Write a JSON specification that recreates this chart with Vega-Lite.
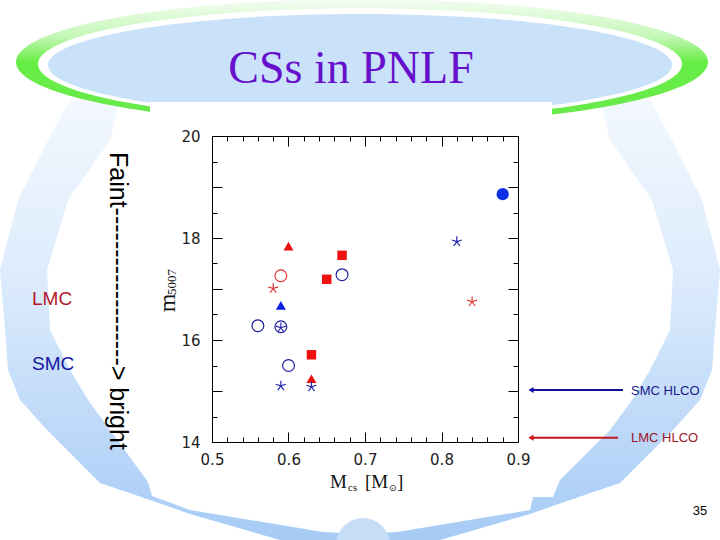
{
  "$schema": "https://vega.github.io/schema/vega-lite/v6.json",
  "width": 306,
  "height": 306,
  "autosize": {"type": "none"},
  "padding": {"left": 212, "top": 136, "right": 202, "bottom": 98},
  "background": "white",
  "config": {"view": {"stroke": "#000000", "strokeWidth": 1, "fill": null}},
  "datasets": {
    "pts": [
      {"g": "LMC", "k": "star", "mass": 0.58, "m5007": 17.01},
      {"g": "LMC", "k": "star", "mass": 0.84, "m5007": 16.75},
      {"g": "LMC", "k": "open", "mass": 0.59, "m5007": 17.26},
      {"g": "LMC", "k": "tri", "mass": 0.60, "m5007": 17.84},
      {"g": "LMC", "k": "tri", "mass": 0.63, "m5007": 15.24},
      {"g": "LMC", "k": "square", "mass": 0.67, "m5007": 17.66},
      {"g": "LMC", "k": "square", "mass": 0.65, "m5007": 17.19},
      {"g": "LMC", "k": "square", "mass": 0.63, "m5007": 15.71},
      {"g": "SMC", "k": "filled", "mass": 0.88, "m5007": 18.86},
      {"g": "SMC", "k": "star", "mass": 0.82, "m5007": 17.93},
      {"g": "SMC", "k": "star", "mass": 0.59, "m5007": 16.24},
      {"g": "SMC", "k": "star", "mass": 0.59, "m5007": 15.10},
      {"g": "SMC", "k": "star", "mass": 0.63, "m5007": 15.08},
      {"g": "SMC", "k": "open", "mass": 0.67, "m5007": 17.28},
      {"g": "SMC", "k": "open", "mass": 0.56, "m5007": 16.28},
      {"g": "SMC", "k": "open", "mass": 0.59, "m5007": 16.26},
      {"g": "SMC", "k": "open", "mass": 0.60, "m5007": 15.50},
      {"g": "SMC", "k": "tri", "mass": 0.59, "m5007": 16.68}
    ]
  },
  "resolve": {"axis": {"x": "independent", "y": "independent"}, "scale": {"color": "independent"}},
  "encoding": {
    "x": {"field": "x", "type": "quantitative", "scale": {"domain": [0.5, 0.9], "nice": false, "zero": false}, "axis": null},
    "y": {"field": "y", "type": "quantitative", "scale": {"domain": [14, 20], "nice": false, "zero": false}, "axis": null}
  },
  "layer": [
    {
      "data": {"values": [{"x": 0.6935, "y": 16.392}]},
      "mark": {"type": "point", "clip": false, "filled": true, "opacity": 1, "strokeWidth": 0, "size": 640000,
        "shape": "M -0.725 -0.55 L -0.78 -0.45 L -0.855 -0.3 L -0.9 -0.125 L -0.8875 0.025 L -0.88 0.125 L -0.85 0.2 L -0.7825 0.275 L -0.65 0.4075 L -0.525 0.45 L -0.425 0.485 L -0.2 0.55 L 0 0.5875 L 0.2 0.55 L 0.425 0.485 L 0.525 0.45 L 0.65 0.4075 L 0.7825 0.275 L 0.85 0.2 L 0.88 0.125 L 0.8875 0.025 L 0.9 -0.125 L 0.855 -0.3 L 0.78 -0.45 L 0.725 -0.55 L 0.6 -0.55 L 0.625 -0.45 L 0.73 -0.3 L 0.7825 -0.125 L 0.775 0.025 L 0.725 0.125 L 0.68 0.2 L 0.625 0.275 L 0.5 0.4 L 0.4825 0.4425 L 0.4325 0.4425 L 0.425 0.475 L 0.0925 0.53 L 0 0.535 L -0.0925 0.53 L -0.425 0.475 L -0.52 0.44 L -0.53 0.405 L -0.625 0.275 L -0.68 0.2 L -0.725 0.125 L -0.775 0.025 L -0.7825 -0.125 L -0.73 -0.3 L -0.625 -0.45 L -0.6 -0.55 Z",
        "fill": {"gradient": "linear", "x1": 0, "y1": 0, "x2": 0, "y2": 1, "stops": [{"offset": 0, "color": "#f3f8fe"}, {"offset": 0.4, "color": "#dcebfc"}, {"offset": 1, "color": "#a3c9f5"}]}}
    },
    {
      "data": {"values": [{"x": 0.6974, "y": 11.98}]},
      "mark": {"type": "point", "clip": false, "filled": true, "opacity": 1, "strokeWidth": 0, "size": 2916, "shape": "circle", "fill": "#c6ddf8"}
    },
    {
      "data": {"values": [{"x": 0.69608, "y": 21.451}]},
      "mark": {"type": "point", "clip": false, "filled": true, "opacity": 1, "strokeWidth": 0, "size": 478864,
        "shape": "M -1 0 C -1 -0.1005 -0.5523 -0.182 0 -0.182 C 0.5523 -0.182 1 -0.1005 1 0 C 1 0.1005 0.5523 0.182 0 0.182 C -0.5523 0.182 -1 0.1005 -1 0 Z",
        "fill": {"gradient": "linear", "x1": 0, "y1": 0, "x2": 0, "y2": 1, "stops": [{"offset": 0, "color": "#f4fdf2"}, {"offset": 0.3, "color": "#c4f7b6"}, {"offset": 0.5, "color": "#66ee44"}, {"offset": 1, "color": "#6ae84e"}]}}
    },
    {
      "data": {"values": [{"x": 0.6935, "y": 21.412}]},
      "mark": {"type": "point", "clip": false, "filled": true, "opacity": 1, "strokeWidth": 0, "size": 414736,
        "shape": "M -1 0 C -1 -0.0958 -0.5523 -0.1734 0 -0.1734 C 0.5523 -0.1734 1 -0.0958 1 0 C 1 0.0958 0.5523 0.1734 0 0.1734 C -0.5523 0.1734 -1 0.0958 -1 0 Z",
        "fill": "#ffffff"}
    },
    {
      "data": {"values": [{"x": 0.6935, "y": 21.392}]},
      "mark": {"type": "point", "clip": false, "filled": true, "opacity": 1, "strokeWidth": 0, "size": 389376,
        "shape": "M -1 0 C -1 -0.0903 -0.5523 -0.1635 0 -0.1635 C 0.5523 -0.1635 1 -0.0903 1 0 C 1 0.0903 0.5523 0.1635 0 0.1635 C -0.5523 0.1635 -1 0.0903 -1 0 Z",
        "fill": "#cae1fa"}
    },
    {
      "data": {"values": [{"x": 0.41895, "x2": 0.94444, "y": 20.667, "y2": 20.2}]},
      "mark": {"type": "rect", "clip": false, "fill": "#ffffff", "opacity": 1},
      "encoding": {"x2": {"field": "x2"}, "y2": {"field": "y2"}}
    },
    {
      "data": {"values": [{"x": 0.6817, "y": 21.039, "t": "CSs in PNLF"}]},
      "mark": {"type": "text", "clip": false, "font": "Liberation Serif", "fontSize": 46, "color": "#6610cc", "align": "center", "baseline": "alphabetic"},
      "encoding": {"text": {"field": "t"}}
    },
    {
      "data": {"values": [{"x": 0.36667, "y": 19.686, "t": "Faint-------------------> bright"}]},
      "mark": {"type": "text", "clip": false, "font": "Liberation Sans", "fontSize": 25, "color": "#000000", "angle": 90, "align": "left", "baseline": "alphabetic"},
      "encoding": {"text": {"field": "t"}}
    },
    {
      "data": {"values": [{"x": 0.2647, "y": 16.686, "t": "LMC", "g": "LMC"}, {"x": 0.2647, "y": 15.412, "t": "SMC", "g": "SMC"}]},
      "mark": {"type": "text", "clip": false, "font": "Liberation Sans", "fontSize": 19, "align": "left", "baseline": "alphabetic"},
      "encoding": {"text": {"field": "t"}, "color": {"field": "g", "type": "nominal", "scale": {"domain": ["LMC", "SMC"], "range": ["#b3162a", "#1616a0"]}, "legend": null}}
    },
    {
      "data": {"values": [{"x": 0.9157, "x2": 1.0373, "y": 15.02, "g": "SMC"}, {"x": 0.9157, "x2": 1.0307, "y": 14.082, "g": "LMC"}]},
      "mark": {"type": "rule", "clip": false, "strokeWidth": 2},
      "encoding": {"x2": {"field": "x2"}, "color": {"field": "g", "type": "nominal", "scale": {"domain": ["LMC", "SMC"], "range": ["#c4141e", "#10108c"]}, "legend": null}}
    },
    {
      "data": {"values": [{"x": 0.9170, "y": 15.02, "g": "SMC"}, {"x": 0.9170, "y": 14.082, "g": "LMC"}]},
      "mark": {"type": "point", "clip": false, "shape": "triangle-left", "filled": true, "opacity": 1, "size": 36},
      "encoding": {"color": {"field": "g", "type": "nominal", "scale": {"domain": ["LMC", "SMC"], "range": ["#d01418", "#1010b0"]}, "legend": null}}
    },
    {
      "data": {"values": [{"x": 1.0477, "y": 14.922, "t": "SMC HLCO", "g": "SMC"}, {"x": 1.0477, "y": 14.0, "t": "LMC HLCO", "g": "LMC"}]},
      "mark": {"type": "text", "clip": false, "font": "Liberation Sans", "fontSize": 13, "align": "left", "baseline": "alphabetic"},
      "encoding": {"text": {"field": "t"}, "color": {"field": "g", "type": "nominal", "scale": {"domain": ["LMC", "SMC"], "range": ["#a01428", "#1a1a8a"]}, "legend": null}}
    },
    {
      "data": {"values": [{"x": 1.138, "y": 12.569, "t": "35"}]},
      "mark": {"type": "text", "clip": false, "font": "Liberation Sans", "fontSize": 13, "color": "#000000", "align": "center", "baseline": "alphabetic"},
      "encoding": {"text": {"field": "t"}}
    },
    {
      "data": {"values": [{"x": 0.65425, "y": 13.098, "t": "M"}, {"x": 0.70, "y": 13.098, "t": "[M"}, {"x": 0.74183, "y": 13.098, "t": "]"}]},
      "mark": {"type": "text", "clip": false, "font": "Liberation Serif", "fontSize": 19, "color": "#111111", "align": "left", "baseline": "alphabetic"},
      "encoding": {"text": {"field": "t"}}
    },
    {
      "data": {"values": [{"x": 0.67778, "y": 13.039, "t": "cs"}]},
      "mark": {"type": "text", "clip": false, "font": "Liberation Serif", "fontSize": 11, "color": "#111111", "align": "left", "baseline": "alphabetic"},
      "encoding": {"text": {"field": "t"}}
    },
    {
      "data": {"values": [{"x": 0.73137, "y": 13.039, "t": "⊙"}]},
      "mark": {"type": "text", "clip": false, "font": "DejaVu Sans", "fontSize": 9, "color": "#111111", "align": "left", "baseline": "alphabetic"},
      "encoding": {"text": {"field": "t"}}
    },
    {
      "data": {"values": [{"x": 0.45163, "y": 16.7255, "t": "m"}]},
      "mark": {"type": "text", "clip": false, "font": "Liberation Serif", "fontSize": 24, "color": "#111111", "angle": 270, "align": "center", "baseline": "alphabetic"},
      "encoding": {"text": {"field": "t"}}
    },
    {
      "data": {"values": [{"x": 0.45294, "y": 17.137, "t": "5007"}]},
      "mark": {"type": "text", "clip": false, "font": "Liberation Serif", "fontSize": 13, "color": "#111111", "angle": 270, "align": "center", "baseline": "alphabetic"},
      "encoding": {"text": {"field": "t"}}
    },
    {
      "data": {"name": "pts"},
      "transform": [{"filter": "datum.k === 'open'"}],
      "mark": {"type": "point", "shape": "circle", "filled": false, "opacity": 1, "size": 140, "strokeWidth": 1.2},
      "encoding": {
        "x": {"field": "mass", "type": "quantitative", "scale": {"domain": [0.5, 0.9], "nice": false, "zero": false},
          "axis": {"orient": "bottom", "values": [0.5, 0.52, 0.54, 0.56, 0.58, 0.6, 0.62, 0.64, 0.66, 0.68, 0.7, 0.72, 0.74, 0.76, 0.78, 0.8, 0.82, 0.84, 0.86, 0.88, 0.9],
            "labelExpr": "abs(datum.value * 10 - round(datum.value * 10)) < 0.001 ? format(datum.value, '.1f') : ''",
            "ticks": true, "tickSize": 0, "tickColor": "#000000", "tickWidth": 1, "domain": true, "domainColor": "#000000", "domainWidth": 1, "grid": false,
            "labelFont": "DejaVu Sans", "labelFontSize": 15, "labelColor": "#222222", "labelPadding": 10, "labelFlush": false, "labelOverlap": false, "labelBound": false, "title": null,
            "encoding": {"ticks": {"y2": {"condition": {"test": "abs(datum.value * 10 - round(datum.value * 10)) < 0.001", "value": -10}, "value": -5}}}}},
        "y": {"field": "m5007", "type": "quantitative", "scale": {"domain": [14, 20], "nice": false, "zero": false},
          "axis": {"orient": "left", "values": [14, 14.5, 15, 15.5, 16, 16.5, 17, 17.5, 18, 18.5, 19, 19.5, 20],
            "labelExpr": "abs(datum.value / 2 - round(datum.value / 2)) < 0.001 ? format(datum.value, 'd') : ''",
            "ticks": true, "tickSize": 0, "tickColor": "#000000", "tickWidth": 1, "domain": true, "domainColor": "#000000", "domainWidth": 1, "grid": false,
            "labelFont": "DejaVu Sans", "labelFontSize": 15, "labelColor": "#222222", "labelPadding": 12, "labelFlush": false, "labelOverlap": false, "labelBound": false, "title": null,
            "encoding": {"ticks": {"x2": {"condition": {"test": "abs(datum.value - round(datum.value)) < 0.001", "value": 10}, "value": 5}}}}},
        "color": {"field": "g", "type": "nominal", "scale": {"domain": ["LMC", "SMC"], "range": ["#e03434", "#1c1c9c"]}, "legend": null}
      }
    },
    {
      "data": {"name": "pts"},
      "transform": [{"filter": "datum.k === 'filled'"}],
      "mark": {"type": "point", "shape": "circle", "filled": true, "opacity": 1, "size": 150},
      "encoding": {
        "x": {"field": "mass", "type": "quantitative", "scale": {"domain": [0.5, 0.9], "nice": false, "zero": false},
          "axis": {"orient": "top", "values": [0.5, 0.52, 0.54, 0.56, 0.58, 0.6, 0.62, 0.64, 0.66, 0.68, 0.7, 0.72, 0.74, 0.76, 0.78, 0.8, 0.82, 0.84, 0.86, 0.88, 0.9],
            "labelExpr": "''",
            "ticks": true, "tickSize": 0, "tickColor": "#000000", "tickWidth": 1, "domain": true, "domainColor": "#000000", "domainWidth": 1, "grid": false, "title": null,
            "encoding": {"ticks": {"y2": {"condition": {"test": "abs(datum.value * 10 - round(datum.value * 10)) < 0.001", "value": 10}, "value": 5}}}}},
        "y": {"field": "m5007", "type": "quantitative", "scale": {"domain": [14, 20], "nice": false, "zero": false},
          "axis": {"orient": "right", "values": [14, 14.5, 15, 15.5, 16, 16.5, 17, 17.5, 18, 18.5, 19, 19.5, 20],
            "labelExpr": "''",
            "ticks": true, "tickSize": 0, "tickColor": "#000000", "tickWidth": 1, "domain": true, "domainColor": "#000000", "domainWidth": 1, "grid": false, "title": null,
            "encoding": {"ticks": {"x2": {"condition": {"test": "abs(datum.value - round(datum.value)) < 0.001", "value": -10}, "value": -5}}}}},
        "color": {"field": "g", "type": "nominal", "scale": {"domain": ["LMC", "SMC"], "range": ["#e81010", "#1030e8"]}, "legend": null}
      }
    },
    {
      "data": {"name": "pts"},
      "transform": [{"filter": "datum.k === 'square'"}],
      "mark": {"type": "point", "shape": "square", "filled": true, "opacity": 1, "size": 90},
      "encoding": {
        "x": {"field": "mass", "type": "quantitative", "scale": {"domain": [0.5, 0.9], "nice": false, "zero": false}, "axis": null},
        "y": {"field": "m5007", "type": "quantitative", "scale": {"domain": [14, 20], "nice": false, "zero": false}, "axis": null},
        "color": {"field": "g", "type": "nominal", "scale": {"domain": ["LMC", "SMC"], "range": ["#ee1111", "#1030e8"]}, "legend": null}
      }
    },
    {
      "data": {"name": "pts"},
      "transform": [{"filter": "datum.k === 'tri'"}],
      "mark": {"type": "point", "shape": "triangle-up", "filled": true, "opacity": 1, "size": 100},
      "encoding": {
        "x": {"field": "mass", "type": "quantitative", "scale": {"domain": [0.5, 0.9], "nice": false, "zero": false}, "axis": null},
        "y": {"field": "m5007", "type": "quantitative", "scale": {"domain": [14, 20], "nice": false, "zero": false}, "axis": null},
        "color": {"field": "g", "type": "nominal", "scale": {"domain": ["LMC", "SMC"], "range": ["#e81010", "#0a20e0"]}, "legend": null}
      }
    },
    {
      "data": {"name": "pts"},
      "transform": [{"filter": "datum.k === 'star'"}],
      "mark": {"type": "point", "shape": "M 0 0 L 0 -1 M 0 0 L 0.951 -0.309 M 0 0 L 0.588 0.809 M 0 0 L -0.588 0.809 M 0 0 L -0.951 -0.309", "filled": false, "opacity": 1, "size": 110, "strokeWidth": 1.2},
      "encoding": {
        "x": {"field": "mass", "type": "quantitative", "scale": {"domain": [0.5, 0.9], "nice": false, "zero": false}, "axis": null},
        "y": {"field": "m5007", "type": "quantitative", "scale": {"domain": [14, 20], "nice": false, "zero": false}, "axis": null},
        "color": {"field": "g", "type": "nominal", "scale": {"domain": ["LMC", "SMC"], "range": ["#e03434", "#2a2aa8"]}, "legend": null}
      }
    }
  ]
}
